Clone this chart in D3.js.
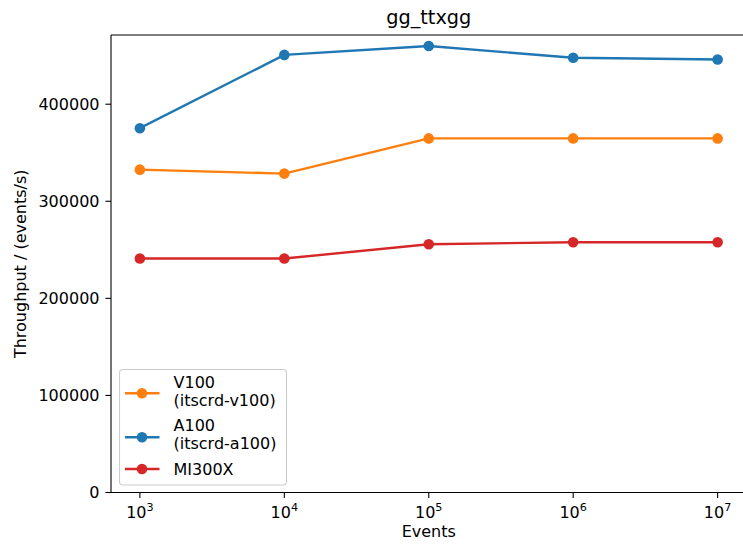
<!DOCTYPE html>
<html><head><meta charset="utf-8">
<script src="https://cdn.jsdelivr.net/npm/d3@7"></script>
<style>body{margin:0;background:#fff}svg{display:block;font-family:"DejaVu Sans",sans-serif}</style>
</head><body><svg id="c" width="743" height="544"></svg>
<script>
const events = [1e3, 1e4, 1e5, 1e6, 1e7];
const v100 = [332600, 328500, 364800, 364800, 364800];
const a100 = [375300, 450800, 460000, 447800, 446000];
const mi300x = [241000, 241000, 255800, 257800, 257800];
const seriesNames = [["V100", "(itscrd-v100)"], ["A100", "(itscrd-a100)"], ["MI300X"]];
const colors = ["#ff7f0e", "#1f77b4", "#d62728"];
const yTicks = [0, 100000, 200000, 300000, 400000];
const xTicks = [1e3, 1e4, 1e5, 1e6, 1e7];
const title = "gg_ttxgg", xLabel = "Events", yLabel = "Throughput / (events/s)";

const svg = d3.select("#c");
const L = 111, R = 746.5, T = 35, B = 492.5;
const x = d3.scaleLog().domain([Math.pow(10, 2.8), Math.pow(10, 7.2)]).range([L, R]);
const y = d3.scaleLinear().domain([0, 471300]).range([B, T]);
const series = [v100, a100, mi300x];
const MR = 5.3;

// spines
const sp = svg.append("g").attr("stroke", "#000").attr("stroke-width", 1.1).attr("fill", "none");
sp.append("line").attr("x1", L).attr("x2", L).attr("y1", T).attr("y2", B);
sp.append("line").attr("x1", L).attr("x2", R).attr("y1", T).attr("y2", T);
sp.append("line").attr("x1", L).attr("x2", R).attr("y1", B).attr("y2", B);
sp.append("line").attr("x1", R).attr("x2", R).attr("y1", T).attr("y2", B);

// y ticks
const yg = svg.append("g");
yTicks.forEach(t => {
  const yy = y(t);
  yg.append("line").attr("x1", L - 5.6).attr("x2", L).attr("y1", yy).attr("y2", yy).attr("stroke", "#000").attr("stroke-width", 1.1);
  yg.append("text").attr("x", L - 11.5).attr("y", yy).attr("dy", "0.36em").attr("text-anchor", "end")
    .attr("font-size", 16).attr("fill", "#000").text(t);
});
// x ticks
const xg = svg.append("g");
xTicks.forEach(t => {
  const xx = x(t);
  xg.append("line").attr("x1", xx).attr("x2", xx).attr("y1", B).attr("y2", B + 5.6).attr("stroke", "#000").attr("stroke-width", 1.1);
  const tx = xg.append("text").attr("x", xx).attr("y", 518).attr("text-anchor", "middle").attr("font-size", 16).attr("fill", "#000");
  tx.append("tspan").text("10");
  tx.append("tspan").attr("font-size", 11.2).attr("dy", -7.5).text(Math.round(Math.log10(t)));
});

// lines
const line = d3.line().x((d, i) => x(events[i])).y(d => y(d));
series.forEach((s, k) => {
  const g = svg.append("g");
  g.append("path").datum(s).attr("d", line).attr("fill", "none").attr("stroke", colors[k]).attr("stroke-width", 2.4).attr("stroke-linejoin", "round").attr("stroke-linecap", "square");
  g.selectAll("circle").data(s).join("circle").attr("cx", (d, i) => x(events[i])).attr("cy", d => y(d)).attr("r", MR).attr("fill", colors[k]);
});

// title and labels
svg.append("text").attr("x", (L + R) / 2).attr("y", 23.5).attr("text-anchor", "middle").attr("font-size", 19.3).attr("fill", "#000").text(title);
svg.append("text").attr("x", (L + R) / 2).attr("y", 537).attr("text-anchor", "middle").attr("font-size", 16).attr("fill", "#000").text(xLabel);
svg.append("text").attr("transform", `translate(25.5,${(T + B) / 2}) rotate(-90)`).attr("text-anchor", "middle").attr("font-size", 16).attr("fill", "#000").text(yLabel);

// legend
const lg = svg.append("g");
lg.append("rect").attr("x", 119.5).attr("y", 369.5).attr("width", 167).attr("height", 115.5).attr("rx", 3.5)
  .attr("fill", "#fff").attr("fill-opacity", 0.8).attr("stroke", "#cccccc").attr("stroke-width", 1.1);
const rowsY = [[382.7, 400.7], [425.2, 443.3], [469]];
const handleY = [393.3, 437.3, 469];
seriesNames.forEach((names, k) => {
  lg.append("line").attr("x1", 125).attr("x2", 159.5).attr("y1", handleY[k]).attr("y2", handleY[k]).attr("stroke", colors[k]).attr("stroke-width", 2.4);
  lg.append("circle").attr("cx", 142).attr("cy", handleY[k]).attr("r", MR).attr("fill", colors[k]);
  names.forEach((n, j) => {
    lg.append("text").attr("x", 173.5).attr("y", rowsY[k][j]).attr("dy", "0.36em").attr("font-size", 16).attr("fill", "#000").text(n);
  });
});
</script></body></html>
